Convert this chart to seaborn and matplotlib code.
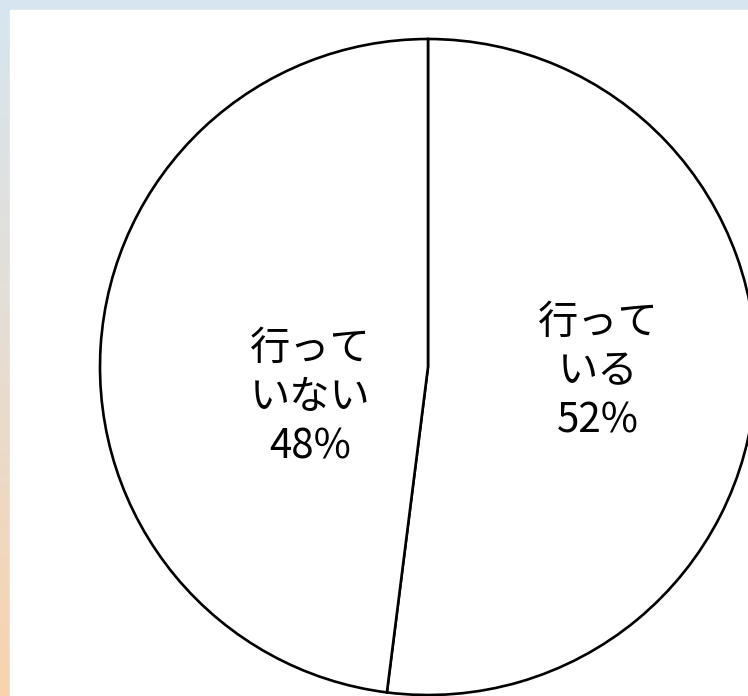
import numpy as np
import matplotlib
matplotlib.use('Agg')
import matplotlib.pyplot as plt
from matplotlib.colors import LinearSegmentedColormap
import seaborn as sns

categories = ['行って\nいる', '行って\nいない']
shares = [52, 48]

sns.set_theme(style='white')
plt.rcParams['font.family'] = ['Noto Sans CJK JP', 'DejaVu Sans']

fig = plt.figure(figsize=(7.48, 6.96), dpi=100)

# background gradient (blue at top -> peach at bottom)
bg = fig.add_axes([0, 0, 1, 1])
cmap = LinearSegmentedColormap.from_list('bg', ['#d6e6f0', '#e6ddd2', '#f9d3ae'])
grad = np.linspace(0, 1, 256).reshape(-1, 1)
bg.imshow(grad, aspect='auto', cmap=cmap, extent=[0, 748, 0, 696])
bg.add_patch(plt.Rectangle((10, 0), 738, 686, color='white', zorder=2))
bg.set_xlim(0, 748)
bg.set_ylim(0, 696)
bg.axis('off')

# pie in pixel coordinates
ax = fig.add_axes([0, 0, 1, 1], facecolor='none')
cx, cy, r = 428, 329, 328
wedges, _ = ax.pie(shares, center=(cx, cy), radius=r, startangle=90,
                   counterclock=False, colors=['white', 'white'],
                   wedgeprops=dict(edgecolor='black', linewidth=1.9))
ax.set_xlim(0, 748)
ax.set_ylim(0, 696)
ax.set_aspect('equal')
ax.axis('off')

# label placement (fraction of radius, extra vertical offset in px)
label_dist = [0.52, 0.36]
label_dy = [6, -38]
for w, cat, val, d, dy in zip(wedges, categories, shares, label_dist, label_dy):
    ang = np.deg2rad((w.theta1 + w.theta2) / 2)
    x = cx + d * r * np.cos(ang)
    y = cy + d * r * np.sin(ang) + dy
    ax.text(x, y, f'{cat}\n{val}%', ha='center', va='center',
            fontsize=29, linespacing=1.25, color='black')

fig.savefig('out.png', dpi=100)
